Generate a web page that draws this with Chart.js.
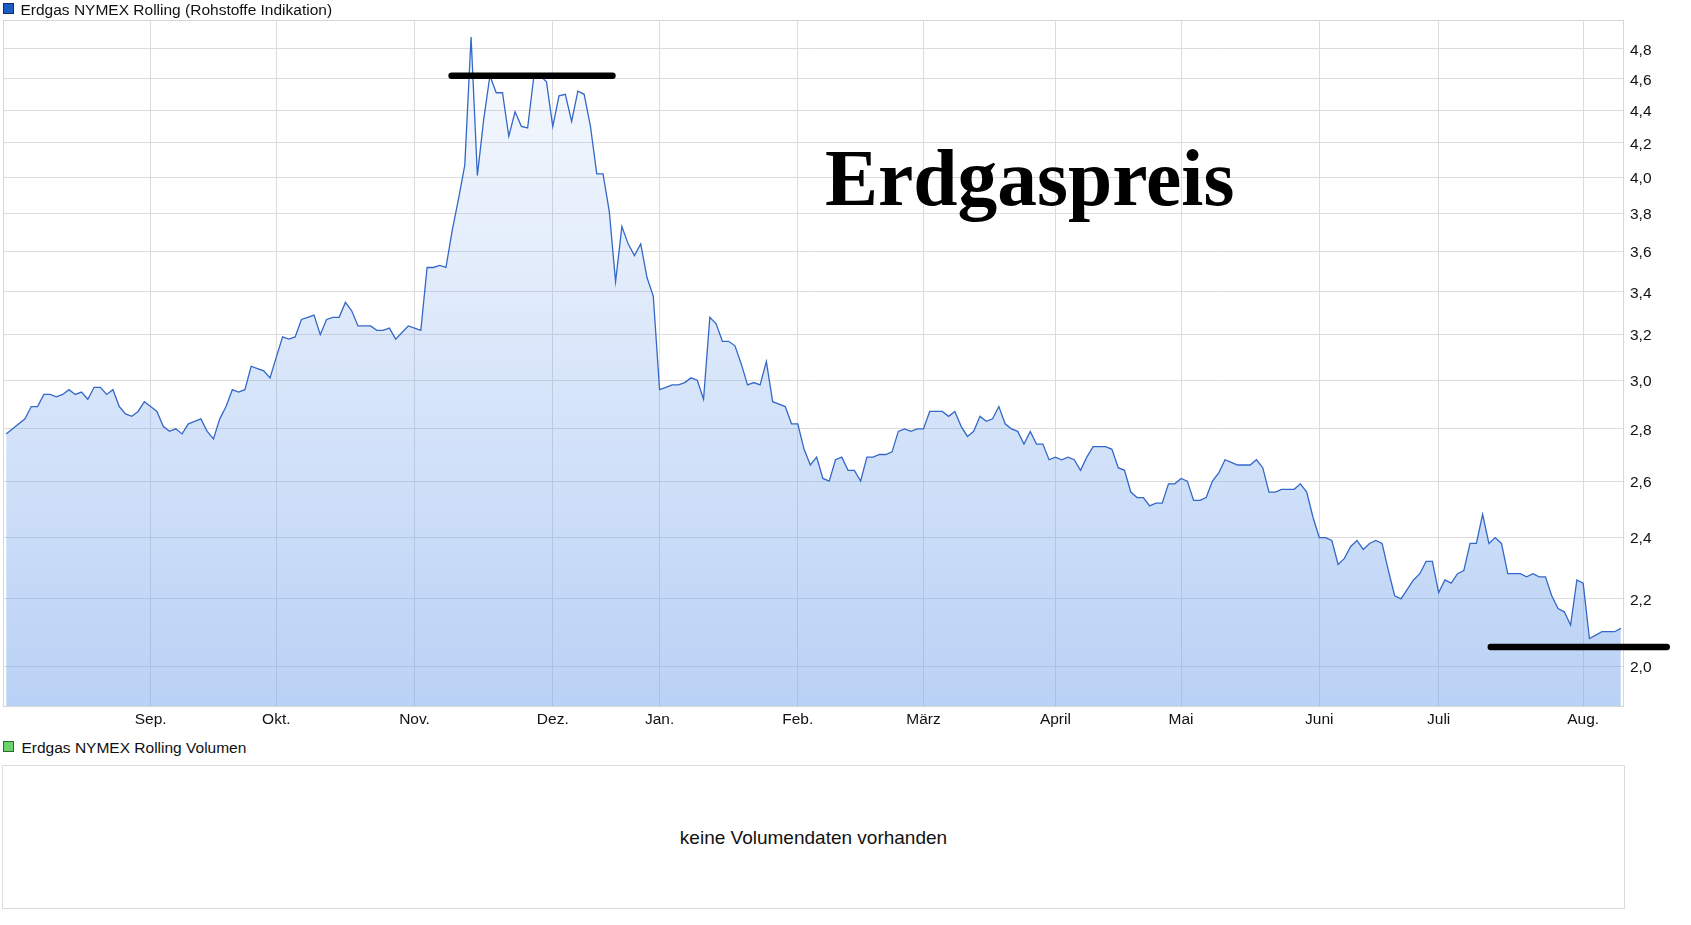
<!DOCTYPE html>
<html lang="de">
<head>
<meta charset="utf-8">
<title>Erdgas NYMEX Rolling</title>
<script src="https://cdn.jsdelivr.net/npm/chart.js@4.4.1/dist/chart.umd.min.js"></script>
<style>
  html, body { margin: 0; padding: 0; background: #fff; }
  body { width: 1691px; height: 925px; position: relative; overflow: hidden;
         font-family: "Liberation Sans", Arial, sans-serif; color: #111; }
  #main { position: absolute; left: 0; top: 0; }
  .sq { position: absolute; left: 3px; width: 9px; height: 9px; border: 1px solid #333; }
  .lg { position: absolute; font-size: 15.5px; line-height: 16px; white-space: nowrap; }
  #vol { position: absolute; left: 2px; top: 765px; width: 1623px; height: 144px;
         box-sizing: border-box; border: 1px solid #dcdcdc; }
  #vol div { position: absolute; left: 0; right: 0; top: 62px; text-align: center;
             font-size: 19px; line-height: 20px; }
</style>
</head>
<body>
<canvas id="main" width="1691" height="732"></canvas>

<span class="sq" style="top:3px; background:#1b5dc4; border-color:#0d2f70;"></span>
<span class="lg" style="left:20.5px; top:2px;">Erdgas NYMEX Rolling (Rohstoffe Indikation)</span>

<span class="sq" style="top:741px; background:#6ad36a; border-color:#2a6a2a;"></span>
<span class="lg" style="left:21.5px; top:740px;">Erdgas NYMEX Rolling Volumen</span>
<div id="vol"><div>keine Volumendaten vorhanden</div></div>

<script>
// Schlusskurse je Handelstag (Index 0 = erster Tag, null = nicht ablesbar)
const price = [
  2.78, null, null, 2.84,
  2.89, 2.89, 2.94, 2.94, 2.93, 2.94, 2.96, 2.94, 2.95, 2.92,
  2.97, 2.97, 2.94, 2.96, 2.89, 2.86, 2.85, 2.87, 2.91, 2.89,
  2.87, 2.81, 2.79, 2.80, 2.78, 2.82, 2.83, 2.84, 2.79, 2.76,
  2.84, 2.89, 2.96, 2.95, 2.96, 3.06, 3.05, 3.04, 3.01, 3.10,
  3.19, 3.18, 3.19, 3.27, 3.28, 3.29, 3.20, 3.27, 3.28, 3.28,
  3.35, 3.31, 3.24, 3.24, 3.24, 3.22, 3.22, 3.23, 3.18, 3.21,
  3.24, 3.23, 3.22, 3.52, 3.52, 3.53, 3.52, 3.71, 3.88, 4.07,
  4.88, 4.01, 4.34, 4.62, 4.51, 4.51, 4.24, 4.39, 4.30, 4.29,
  4.62, 4.62, 4.58, 4.30, 4.49, 4.50, 4.33, 4.52, 4.50, 4.30,
  4.02, 4.02, 3.81, 3.45, 3.73, 3.64, 3.58, 3.64, 3.47, 3.38,
  2.96, 2.97, 2.98, 2.98, 2.99, 3.01, 3.00, 2.92, 3.28, 3.25,
  3.17, 3.17, 3.15, 3.07, 2.98, 2.99, 2.98, 3.08, 2.91, 2.90,
  2.89, 2.82, 2.82, 2.72, 2.66, 2.69, 2.61, 2.60, 2.68, 2.69,
  2.64, 2.64, 2.60, 2.69, 2.69, 2.70, 2.70, 2.71, 2.79, 2.80,
  2.79, 2.80, 2.80, 2.87, 2.87, 2.87, 2.85, 2.87, 2.81, 2.77,
  2.79, 2.85, 2.83, 2.84, 2.89, 2.82, 2.80, 2.79, 2.74, 2.79,
  2.74, 2.74, 2.68, 2.69, 2.68, 2.69, 2.68, 2.64, 2.69, 2.73,
  2.73, 2.73, 2.72, 2.65, 2.64, 2.56, 2.54, 2.54, 2.51, 2.52,
  2.52, 2.59, 2.59, 2.61, 2.60, 2.53, 2.53, 2.54, 2.60, 2.63,
  2.68, 2.67, 2.66, 2.66, 2.66, 2.68, 2.65, 2.56, 2.56, 2.57,
  2.57, 2.57, 2.59, 2.56, 2.47, 2.40, 2.40, 2.39, 2.31, 2.33,
  2.37, 2.39, 2.36, 2.38, 2.39, 2.38, 2.29, 2.21, 2.20, 2.23,
  2.26, 2.28, 2.32, 2.32, 2.22, 2.26, 2.25, 2.28, 2.29, 2.38,
  2.38, 2.48, 2.38, 2.40, 2.38, 2.28, 2.28, 2.28, 2.27, 2.28,
  2.27, 2.27, 2.21, 2.17, 2.16, 2.12, 2.26, 2.25, 2.08, 2.09,
  2.10, 2.10, 2.10, 2.11
];

// Monatsanfaenge (Handelstag-Index) und Beschriftung
const monthTicks = [23, 43, 65, 87, 104, 126, 146, 167, 187, 209, 228, 251];
const monthLabels = ['Sep.', 'Okt.', 'Nov.', 'Dez.', 'Jan.', 'Feb.', 'März', 'April', 'Mai', 'Juni', 'Juli', 'Aug.'];

const priceTicks = [2.0, 2.2, 2.4, 2.6, 2.8, 3.0, 3.2, 3.4, 3.6, 3.8, 4.0, 4.2, 4.4, 4.6, 4.8];

// handgezeichnete Markierungen (von / bis Index, Kursniveau)
const markFrom = [70.9, 236.3];
const markTo = [96.5, 264.3];
const markLevel = [4.62, 2.055];

const titleText = 'Erdgaspreis';

Chart.defaults.font.family = '"Liberation Sans", Arial, sans-serif';
Chart.defaults.color = '#111';

const overlay = {
  id: 'overlay',
  afterDatasetsDraw(chart) {
    const { ctx, chartArea: a } = chart;
    ctx.save();
    ctx.strokeStyle = '#d6d6d6';
    ctx.lineWidth = 1;
    ctx.strokeRect(a.left + 0.5, a.top + 0.5, a.right - a.left - 1, a.bottom - a.top);
    ctx.restore();
  },
  afterDraw(chart) {
    const { ctx, scales: { x, y } } = chart;
    ctx.save();
    ctx.fillStyle = '#000';
    ctx.font = 'bold 79.5px "Liberation Serif", "Times New Roman", serif';
    ctx.textBaseline = 'alphabetic';
    ctx.fillText(titleText, 825, 205);

    ctx.strokeStyle = '#000';
    ctx.lineWidth = 6.5;
    ctx.lineCap = 'round';
    for (let i = 0; i < markFrom.length; i++) {
      const py = y.getPixelForValue(markLevel[i]);
      ctx.beginPath();
      ctx.moveTo(x.getPixelForValue(markFrom[i]), py);
      ctx.lineTo(x.getPixelForValue(markTo[i]), py);
      ctx.stroke();
    }
    ctx.restore();
  }
};

new Chart(document.getElementById('main'), {
  type: 'line',
  data: {
    datasets: [{
      label: 'Erdgas NYMEX Rolling (Rohstoffe Indikation)',
      data: price.map((v, i) => ({ x: i, y: v })),
      borderColor: 'rgb(52,104,200)',
      borderWidth: 1.3,
      pointRadius: 0,
      tension: 0,
      spanGaps: true,
      fill: 'start',
      backgroundColor: (c) => {
        const a = c.chart.chartArea;
        if (!a) return 'rgba(110,160,235,0.3)';
        const g = c.chart.ctx.createLinearGradient(0, a.top, 0, a.bottom);
        g.addColorStop(0, 'rgba(110,160,235,0.04)');
        g.addColorStop(1, 'rgba(110,160,235,0.48)');
        return g;
      }
    }]
  },
  options: {
    responsive: false,
    animation: false,
    layout: { padding: { left: 3, top: 20, right: 0, bottom: 0 } },
    plugins: { legend: { display: false }, tooltip: { enabled: false } },
    scales: {
      x: {
        type: 'linear',
        min: -0.5,
        max: 257.5,
        afterBuildTicks: s => { s.ticks = monthTicks.map(v => ({ value: v })); },
        afterFit: s => { s.height = 26; },
        grid: { color: '#dcdcdc', drawTicks: false },
        border: { display: false },
        ticks: {
          padding: 4, autoSkip: false, maxRotation: 0,
          font: { size: 15.5 },
          callback: (v, i) => monthLabels[i]
        }
      },
      y: {
        type: 'logarithmic',
        position: 'right',
        min: 1.89,
        max: 5.0,
        afterBuildTicks: s => { s.ticks = priceTicks.map(v => ({ value: v })); },
        afterFit: s => { s.width = 67; },
        grid: { color: '#dcdcdc', drawTicks: false },
        border: { display: false },
        ticks: {
          padding: 6, autoSkip: false, labelOffset: 1.5,
          font: { size: 15.5 },
          callback: v => Number(v).toFixed(1).replace('.', ',')
        }
      }
    }
  },
  plugins: [overlay]
});
</script>
</body>
</html>
